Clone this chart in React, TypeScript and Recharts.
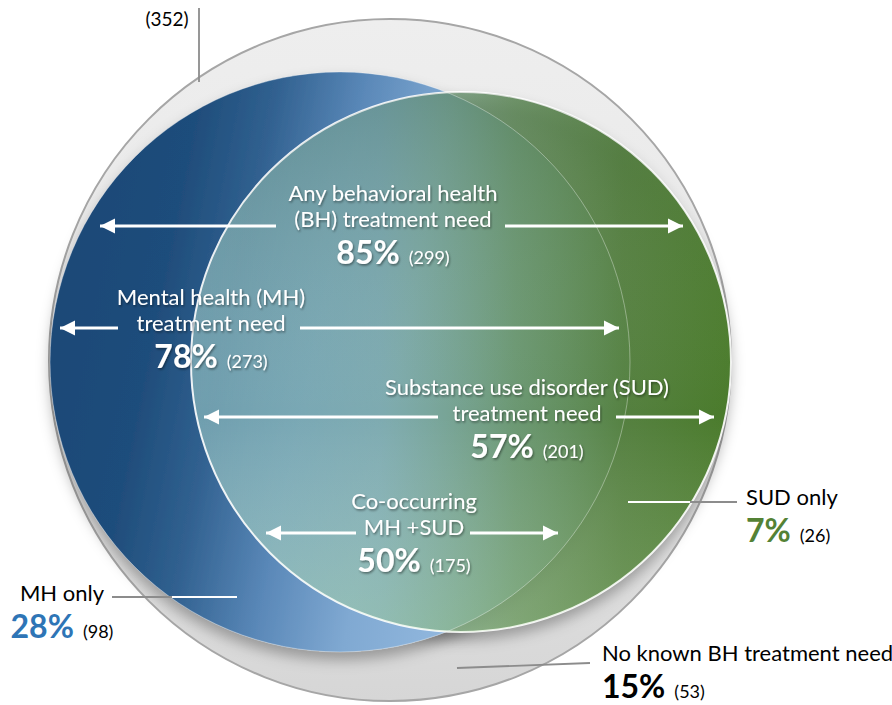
import { ScatterChart, Scatter, XAxis, YAxis, ZAxis } from 'recharts';

const CHART_W = 892;
const CHART_H = 705;
const FONT = "Lato, 'Open Sans', sans-serif";

// Venn sets, in chart units
const setNames = ['All youth', 'MH', 'SUD'];
const setX = [390, 340, 461];
const setY = [360, 362, 362];
const setR = [341, 290, 270];
const totalCount = '(352)';

// draw order of the set layers
const layerSet = ['All youth', 'SUD', 'MH', 'SUD', 'SUD', 'MH'];
const layerKind = ['gray', 'shadow', 'blue', 'green', 'sheen', 'outline'];

// double arrows inside the sets
const arrowNames = ['BH', 'MH', 'SUD', 'Co-occurring'];
const arrowY = [226, 328, 417, 533];
const arrowLeftTip = [100, 60, 204, 266];
const arrowLeftTail = [276, 118, 438, 356];
const arrowRightTail = [505, 300, 616, 470];
const arrowRightTip = [683, 619, 714, 558];

// labels inside the sets
const innerLines = [
  ['Any behavioral health', '(BH) treatment need'],
  ['Mental health (MH)', 'treatment need'],
  ['Substance use disorder (SUD)', 'treatment need'],
  ['Co-occurring', 'MH +SUD'],
];
const innerPct = ['85%', '78%', '57%', '50%'];
const innerCount = ['(299)', '(273)', '(201)', '(175)'];
const innerX = [393, 211, 527, 414];
const innerY = [201, 305, 395, 509];

// labels outside the sets
const outerNames = ['SUD only', 'MH only', 'No known BH treatment need'];
const outerPct = ['7%', '28%', '15%'];
const outerCount = ['(26)', '(98)', '(53)'];
const outerX = [746, 62, 602];
const outerY = [505, 601, 661];

// leader lines
const leaderNames = ['total', 'MH only', 'MH only inner', 'SUD only inner', 'SUD only', 'No known'];
const leaderX1 = [199, 112, 172, 628, 690, 457];
const leaderY1 = [8, 597, 597, 502, 502, 668];
const leaderX2 = [199, 172, 237, 690, 737, 590];
const leaderY2 = [82, 597, 597, 502, 502, 663];

const layerStyle: Record<string, any> = {
  gray: { fill: 'url(#grayFill)', stroke: '#a6a6a6', strokeWidth: 2 },
  shadow: { fill: '#000', fillOpacity: 0.3, filter: 'url(#blurShadow)' },
  blue: { fill: 'url(#blueFill)', filter: 'url(#dropShadow)' },
  green: { fill: 'url(#greenFill)', stroke: '#ffffff', strokeWidth: 2, strokeOpacity: 0.9 },
  sheen: { fill: 'url(#greenSheen)' },
  outline: { fill: 'none', stroke: '#ffffff', strokeOpacity: 0.35, strokeWidth: 1 },
};

const leaderColor: Record<string, string> = {
  total: '#8c8c8c',
  'MH only': '#8c8c8c',
  'MH only inner': '#ffffff',
  'SUD only inner': '#ffffff',
  'SUD only': '#8c8c8c',
  'No known': '#8c8c8c',
};

const outerStyle: Record<string, { anchor: string; color: string }> = {
  'SUD only': { anchor: 'start', color: '#548235' },
  'MH only': { anchor: 'middle', color: '#2e75b6' },
  'No known BH treatment need': { anchor: 'start', color: '#000000' },
};

const SetShape = (props: any) => {
  const { cx, cy, payload } = props;
  const r = props.width ? props.width / 2 : Math.sqrt(props.size / Math.PI);
  return <circle cx={cx} cy={cy} r={r} {...layerStyle[payload.kind]} />;
};

const ArrowTip = (props: any) => {
  const { cx, cy, payload } = props;
  if (!payload.tip) return <g />;
  const d = payload.dir;
  return (
    <polygon
      points={`${cx},${cy} ${cx - d * 15},${cy - 7.5} ${cx - d * 15},${cy + 7.5}`}
      fill="#ffffff"
    />
  );
};

const Nothing = () => <g />;

const InnerLabel = (props: any) => {
  const { cx, cy, payload } = props;
  return (
    <g filter="url(#textShadow)" fontFamily={FONT} fill="#ffffff" textAnchor="middle">
      <text x={cx} y={cy} fontSize={22}>{payload.lines[0]}</text>
      <text x={cx} y={cy + 26} fontSize={22}>{payload.lines[1]}</text>
      <text x={cx} y={cy + 63}>
        <tspan fontSize={32} fontWeight={700}>{payload.pct}</tspan>
        <tspan fontSize={18} dx={9}>{payload.count}</tspan>
      </text>
    </g>
  );
};

const OuterLabel = (props: any) => {
  const { cx, cy, payload } = props;
  const st = outerStyle[payload.name];
  return (
    <g fontFamily={FONT} textAnchor={st.anchor}>
      <text x={cx} y={cy} fontSize={22} fill="#000000">{payload.name}</text>
      <text x={cx} y={cy + 37}>
        <tspan fontSize={32} fontWeight={700} fill={st.color}>{payload.pct}</tspan>
        <tspan fontSize={18} dx={9} fill="#000000">{payload.count}</tspan>
      </text>
    </g>
  );
};

const TotalLabel = (props: any) => {
  const { cx, cy, payload } = props;
  return (
    <text x={cx} y={cy} fontFamily={FONT} fontSize={19} fill="#000000" textAnchor="middle">
      {payload.text}
    </text>
  );
};

export default function App() {
  const layers = layerSet.map((name, i) => {
    const s = setNames.indexOf(name);
    return {
      key: `${name}-${layerKind[i]}`,
      data: [{ name, kind: layerKind[i], x: setX[s], y: setY[s], size: Math.PI * setR[s] * setR[s] }],
    };
  });

  const arrows = arrowNames.flatMap((name, i) => [
    {
      key: `${name}-left`,
      data: [
        { x: arrowLeftTail[i], y: arrowY[i], tip: false },
        { x: arrowLeftTip[i], y: arrowY[i], tip: true, dir: -1 },
      ],
    },
    {
      key: `${name}-right`,
      data: [
        { x: arrowRightTail[i], y: arrowY[i], tip: false },
        { x: arrowRightTip[i], y: arrowY[i], tip: true, dir: 1 },
      ],
    },
  ]);

  const leaders = leaderNames.map((name, i) => ({
    key: name,
    color: leaderColor[name],
    data: [
      { x: leaderX1[i], y: leaderY1[i] },
      { x: leaderX2[i], y: leaderY2[i] },
    ],
  }));

  const innerData = innerLines.map((lines, i) => ({
    lines,
    pct: innerPct[i],
    count: innerCount[i],
    x: innerX[i],
    y: innerY[i],
  }));

  const outerData = outerNames.map((name, i) => ({
    name,
    pct: outerPct[i],
    count: outerCount[i],
    x: outerX[i],
    y: outerY[i],
  }));

  return (
    <div style={{ position: 'absolute', left: 0, top: 0, width: CHART_W, height: CHART_H, background: '#fff' }}>
      <ScatterChart width={CHART_W} height={CHART_H} margin={{ top: 0, right: 0, bottom: 0, left: 0 }}>
        <defs>
          <linearGradient id="grayFill" x1="0" y1="0" x2="0" y2="1">
            <stop offset="0" stopColor="#eeeeee" />
            <stop offset="0.6" stopColor="#e6e6e6" />
            <stop offset="1" stopColor="#d6d6d6" />
          </linearGradient>
          <linearGradient id="blueFill" x1="0" y1="0.4" x2="1" y2="0.6">
            <stop offset="0" stopColor="#1d4877" />
            <stop offset="0.18" stopColor="#1f4d7b" />
            <stop offset="0.3" stopColor="#30608f" />
            <stop offset="0.45" stopColor="#5a88b8" />
            <stop offset="0.6" stopColor="#80a9d2" />
            <stop offset="1" stopColor="#a9cbee" />
          </linearGradient>
          <linearGradient id="greenFill" x1="0" y1="0" x2="1" y2="0">
            <stop offset="0" stopColor="#a6d4cc" stopOpacity={0.55} />
            <stop offset="0.35" stopColor="#7fae9e" stopOpacity={0.62} />
            <stop offset="0.6" stopColor="#62905a" stopOpacity={0.82} />
            <stop offset="0.8" stopColor="#527f3c" stopOpacity={0.96} />
            <stop offset="1" stopColor="#4a7b2b" stopOpacity={1} />
          </linearGradient>
          <linearGradient id="greenSheen" x1="0" y1="0" x2="0" y2="1">
            <stop offset="0" stopColor="#1e3a20" stopOpacity={0.14} />
            <stop offset="0.6" stopColor="#ffffff" stopOpacity={0} />
            <stop offset="1" stopColor="#c8f0b0" stopOpacity={0.22} />
          </linearGradient>
          <filter id="blurShadow" x="-20%" y="-20%" width="140%" height="150%">
            <feGaussianBlur stdDeviation="7" />
            <feOffset dy="8" />
          </filter>
          <filter id="dropShadow" x="-20%" y="-20%" width="140%" height="150%">
            <feDropShadow dx="0" dy="8" stdDeviation="7" floodColor="#000" floodOpacity="0.3" />
          </filter>
          <filter id="textShadow" x="-20%" y="-40%" width="140%" height="180%">
            <feDropShadow dx="1" dy="1.5" stdDeviation="1.2" floodColor="#000" floodOpacity="0.45" />
          </filter>
        </defs>
        <XAxis type="number" dataKey="x" domain={[0, CHART_W]} hide />
        <YAxis type="number" dataKey="y" domain={[0, CHART_H]} reversed hide />
        <ZAxis type="number" dataKey="size" domain={[0, 400000]} range={[0, 400000]} />

        {layers.map((l) => (
          <Scatter key={l.key} name={l.key} data={l.data} shape={SetShape} isAnimationActive={false} />
        ))}

        {leaders.map((l) => (
          <Scatter
            key={l.key}
            name={l.key}
            data={l.data}
            shape={Nothing}
            line={{ stroke: l.color, strokeWidth: 1.8 }}
            isAnimationActive={false}
          />
        ))}

        {arrows.map((a) => (
          <Scatter
            key={a.key}
            name={a.key}
            data={a.data}
            shape={ArrowTip}
            line={{ stroke: '#ffffff', strokeWidth: 3 }}
            isAnimationActive={false}
          />
        ))}

        <Scatter name="inner labels" data={innerData} shape={InnerLabel} isAnimationActive={false} />
        <Scatter name="outer labels" data={outerData} shape={OuterLabel} isAnimationActive={false} />
        <Scatter
          name="total"
          data={[{ text: totalCount, x: 167, y: 26 }]}
          shape={TotalLabel}
          isAnimationActive={false}
        />
      </ScatterChart>
    </div>
  );
}
